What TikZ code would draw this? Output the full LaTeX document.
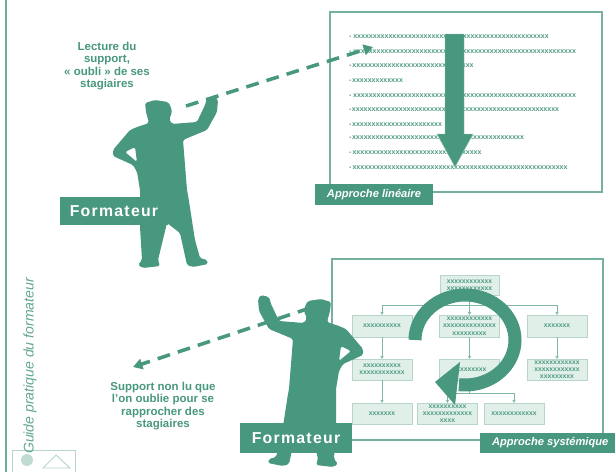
\documentclass[tikz,border=0pt]{standalone}
\usepackage{fontspec}
\setsansfont{Liberation Sans}
\usetikzlibrary{arrows.meta}
\definecolor{cteal}{HTML}{48977F}
\definecolor{cpale}{HTML}{E1EFE9}
\definecolor{cline}{HTML}{B7D6C9}
\definecolor{crow}{HTML}{4F9C83}
\newdimen\unitpx \unitpx=0.03cm
% a row of placeholder x's, #1 pixels wide
\newcommand\xrow[1]{\hbox to #1\unitpx{\cleaders\hbox{x}\hfill}}
\tikzset{
  every picture/.style={font=\sffamily},
  board/.style={draw=cteal!75, line width=1.2pt, fill=white},
  tag/.style={fill=cteal, text=white, inner sep=0pt, font=\sffamily\bfseries\itshape\fontsize{9.5}{11}\selectfont},
  nametag/.style={fill=cteal, text=white, inner sep=0pt, font=\sffamily\bfseries\fontsize{13.5}{15}\selectfont\addfontfeature{LetterSpace=8}},
  caption/.style={text=cteal, align=center, font=\sffamily\bfseries\fontsize{9.8}{10.6}\selectfont},
  pointer/.style={draw=cteal, line width=3pt, dash pattern=on 11pt off 7pt, -{Triangle[length=8pt, width=9pt]}},
  formateur/.pic={
    \fill[cteal, even odd rule, rounded corners=1.5pt]
      (149,123) -- (146,112) -- (145,103) -- (155,100) -- (168,102) -- (171,107) -- (172,113) -- (169,119) -- (172,124)
      -- (197,122) -- (205,105) -- (207,98) -- (215,96) -- (218,100) -- (217,112) -- (207,130) -- (190,137) -- (183,140)
      -- (187,190) -- (188,195) -- (195,240) -- (200,258) -- (207,260) -- (208,264) -- (193,267) -- (187,265) -- (180,233)
      -- (167,223) -- (158,260) -- (160,266) -- (143,268) -- (138,265) -- (142,260) -- (140,227) -- (140,190)
      -- (137,172) -- (133,165) -- (113,156) -- (113,150) -- (130,130) -- (137,127) -- cycle
      (125,152) -- (135,147) -- (137,162) -- cycle;
  },
}

\begin{document}
\begin{tikzpicture}[x=0.03cm, y=-0.03cm,
  rowtext/.style={anchor=west, inner sep=0pt, text=crow, font=\sffamily\bfseries\fontsize{6}{6.4}\selectfont},
  chart/.style={draw=cline, fill=cpale, minimum width=60\unitpx, minimum height=21\unitpx, inner sep=0.5pt,
    align=center, text=crow, font=\sffamily\bfseries\fontsize{5.8}{6.2}\selectfont},
  link/.style={draw=cteal!70, line width=0.7pt, -{Stealth[length=2.5pt, width=3pt]}}]
  \useasboundingbox (0,0) rectangle (615,472);
  \draw[cteal!80, line width=1.2pt] (6,0) -- (6,472);

  % linear reading of the handout
  \draw[board] (330,12) rectangle (602,192);
  \foreach \y/\w in {37/199, 52/226, 66/123, 81/52, 96/226, 110/208, 125/91, 138/173, 153/131, 168/217}
    \node[rowtext] (r\y) at (349,\y) {-\xrow{\w}};
  \fill[cteal, draw=cteal!60] (445,34) -- (464,34) -- (464,134) -- (473,134) -- (455,167) -- (437,134) -- (445,134) -- cycle;
  \node[tag, minimum width=118\unitpx, minimum height=21\unitpx] (lin) at (374,194.5) {Approche linéaire};

  \coordinate (hand1) at (186,106);
  \coordinate (row1) at (373,47);
  \draw[pointer] (hand1) -- (row1);
  \pic at (0,0) {formateur};
  \node[nametag, minimum width=108\unitpx, minimum height=28\unitpx] (f1) at (114,211) {Formateur};
  \node[caption] (lect) at (107,66) {Lecture du\\support,\\« oubli » de ses\\stagiaires};

  % systemic view: org chart
  \draw[board] (332,259) rectangle (603,440);
  \node[chart, minimum width=59\unitpx, minimum height=20\unitpx] (b0) at (469.5,285) {\xrow{48}\\\xrow{48}};
  \node[chart, minimum height=22\unitpx] (b1) at (382,326) {\xrow{40}};
  \node[chart, minimum height=22\unitpx] (b2) at (469.5,326) {\xrow{48}\\\xrow{53}\\\xrow{35}};
  \node[chart, minimum height=22\unitpx] (b3) at (557,326) {\xrow{27}};
  \node[chart] (b4) at (382,369.5) {\xrow{40}\\\xrow{48}};
  \node[chart] (b5) at (469.5,369.5) {\xrow{36}};
  \node[chart] (b6) at (557,369.5) {\xrow{48}\\\xrow{48}\\\xrow{36}};
  \node[chart] (b7) at (382,413.5) {\xrow{27}};
  \node[chart] (b8) at (447.5,413.5) {\xrow{38}\\\xrow{51}\\\xrow{17}};
  \node[chart] (b9) at (514,413.5) {\xrow{47}};
  \coordinate (bus0) at (469.5,305);
  \coordinate (bus1) at (469.5,393);
  \draw[draw=cteal!70, line width=0.7pt] (b0.south) -- (bus0);
  \foreach \b in {b1,b2,b3} \draw[link] (bus0) -| (\b.north);
  \foreach \a/\b in {b1/b4, b4/b7, b2/b5, b3/b6} \draw[link] (\a.south) -- (\b.north);
  \draw[draw=cteal!70, line width=0.7pt] (b5.south) -- (bus1);
  \foreach \b in {b8,b9} \draw[link] (bus1) -| (\b.north);
  \draw[cteal, line width=13\unitpx] (415,340) arc[start angle=180, end angle=457, x radius=50, y radius=45];
  \fill[cteal] (460,362) -- (435,382) -- (455,405) -- cycle;
  \node[tag, anchor=west, minimum width=140\unitpx, minimum height=20\unitpx, inner xsep=10\unitpx, align=left] (sys) at (480,443) {Approche systémique\hfill};

  \coordinate (hand2) at (310,308);
  \coordinate (away) at (133,367);
  \draw[pointer] (hand2) -- (away);
  \pic[xscale=-1] at (476,199) {formateur};
  \node[nametag, minimum width=112\unitpx, minimum height=30\unitpx] (f2) at (296,438) {Formateur};
  \node[caption] (nonlu) at (163,406) {Support non lu que\\l'on oublie pour se\\rapprocher des\\stagiaires};

  % side strip
  \draw[cline, line width=0.8pt] (12,472) |- (75,450) -- (75,472);
  \draw[cline, line width=0.8pt] (43,468) -- (56,455) -- (70,468) -- cycle;
  \fill[cteal!35] (27,460) circle (6);
  \node[rotate=90, text=cteal!85, font=\sffamily\itshape\fontsize{12}{14}\selectfont] (guide) at (30,366) {Guide pratique du formateur};
\end{tikzpicture}
\end{document}
